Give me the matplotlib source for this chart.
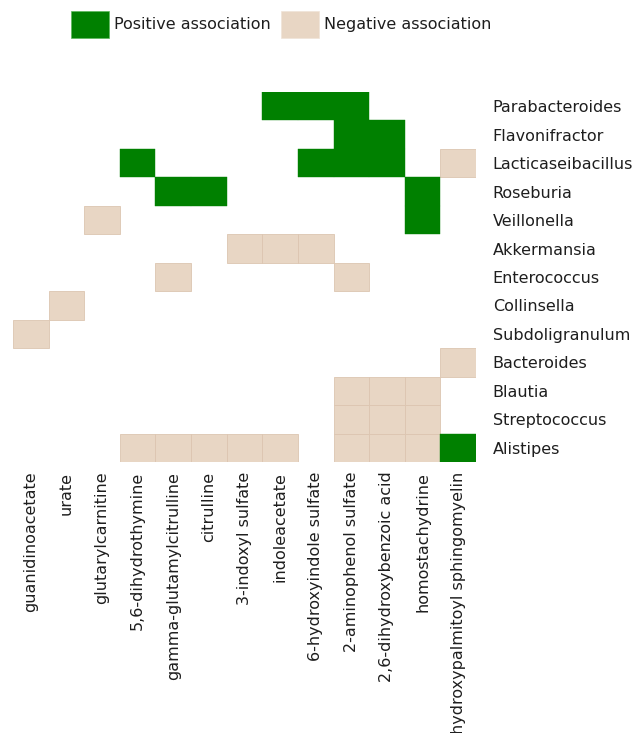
import numpy as np
import matplotlib.pyplot as plt
from matplotlib.patches import Patch

bacteria = ["Parabacteroides", "Flavonifractor", "Lacticaseibacillus", "Roseburia",
            "Veillonella", "Akkermansia", "Enterococcus", "Collinsella",
            "Subdoligranulum", "Bacteroides", "Blautia", "Streptococcus", "Alistipes"]

metabolites = ["guanidinoacetate", "urate", "glutarylcarnitine", "5,6-dihydrothymine",
               "gamma-glutamylcitrulline", "citrulline", "3-indoxyl sulfate", "indoleacetate",
               "6-hydroxyindole sulfate", "2-aminophenol sulfate", "2,6-dihydroxybenzoic acid",
               "homostachydrine", "hydroxypalmitoyl sphingomyelin"]

# 1 = positive association, -1 = negative association, 0 = none
assoc = [
    [0, 0, 0, 0, 0, 0, 0, 1, 1, 1, 0, 0, 0],
    [0, 0, 0, 0, 0, 0, 0, 0, 0, 1, 1, 0, 0],
    [0, 0, 0, 1, 0, 0, 0, 0, 1, 1, 1, 0, -1],
    [0, 0, 0, 0, 1, 1, 0, 0, 0, 0, 0, 1, 0],
    [0, 0, -1, 0, 0, 0, 0, 0, 0, 0, 0, 1, 0],
    [0, 0, 0, 0, 0, 0, -1, -1, -1, 0, 0, 0, 0],
    [0, 0, 0, 0, -1, 0, 0, 0, 0, -1, 0, 0, 0],
    [0, -1, 0, 0, 0, 0, 0, 0, 0, 0, 0, 0, 0],
    [-1, 0, 0, 0, 0, 0, 0, 0, 0, 0, 0, 0, 0],
    [0, 0, 0, 0, 0, 0, 0, 0, 0, 0, 0, 0, -1],
    [0, 0, 0, 0, 0, 0, 0, 0, 0, -1, -1, -1, 0],
    [0, 0, 0, 0, 0, 0, 0, 0, 0, -1, -1, -1, 0],
    [0, 0, 0, -1, -1, -1, -1, -1, 0, -1, -1, -1, 1],
]

pos_color = "#008000"
neg_color = "#e8d6c4"

data = np.array(assoc)
fig = plt.figure(figsize=(6.34, 7.33), dpi=100)
ax = fig.add_axes([13 / 634, 1 - 462 / 733, 463 / 634, 370 / 733])

# tan cells with faint borders, green cells drawn as solid blocks
rows, cols = np.nonzero(data == -1)
ax.bar(cols, 1, bottom=rows, width=1, align="edge", color=neg_color,
       edgecolor="#dcc5b0", linewidth=0.6)
rows, cols = np.nonzero(data == 1)
ax.bar(cols, 1, bottom=rows, width=1, align="edge", color=pos_color,
       edgecolor=pos_color, linewidth=0.3)

ax.set_xlim(0, len(metabolites))
ax.set_ylim(len(bacteria), 0)
ax.set_xticks(np.arange(len(metabolites)) + 0.5)
ax.set_xticklabels(metabolites, rotation=90, fontsize=11.5, color="#1e1e1e")
ax.set_yticks(np.arange(len(bacteria)) + 0.5)
ax.set_yticklabels(bacteria, fontsize=11.5, color="#1e1e1e")
ax.yaxis.tick_right()
ax.tick_params(length=0, pad=12, axis="y")
ax.tick_params(length=0, pad=7, axis="x")
for s in ax.spines.values():
    s.set_visible(False)

handles = [Patch(facecolor=pos_color, edgecolor="#5cb85c", linewidth=0.5),
           Patch(facecolor=neg_color, edgecolor="#f0e4d8", linewidth=0.5)]
fig.legend(handles, ["Positive association", "Negative association"], ncol=2,
           loc="center", bbox_to_anchor=(281 / 634, 1 - 24.5 / 733), frameon=False,
           fontsize=11.5, handlelength=2.38, handleheight=2.25, handletextpad=0.32,
           columnspacing=0.63, labelcolor="#1e1e1e", borderpad=0)

fig.savefig("out.png", dpi=100)
